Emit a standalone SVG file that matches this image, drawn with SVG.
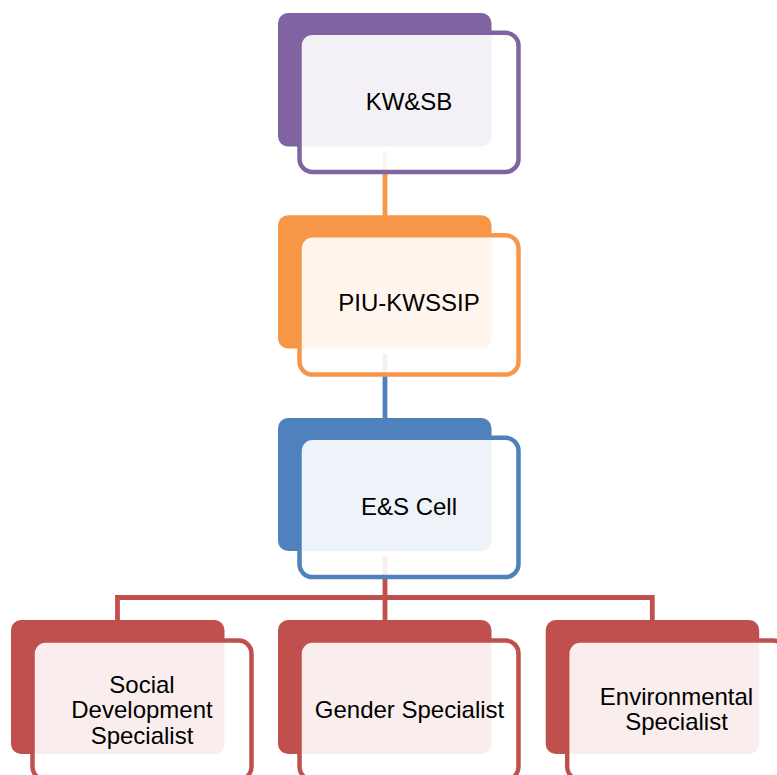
<svg xmlns="http://www.w3.org/2000/svg" width="777" height="775" viewBox="0 0 777 775">
<style>
.back{stroke:none}
.front{fill:#ffffff;fill-opacity:0.9;stroke-width:4.5}
.lbl{font-family:"Liberation Sans",Arial,sans-serif;font-size:24px;fill:#000;text-anchor:middle}
.conn{fill:none;stroke-width:4.8;stroke-linejoin:miter}
</style>
<g id="connectors">
<line class="conn" x1="385" y1="151" x2="385" y2="218" stroke="#F79646"/>
<line class="conn" x1="385" y1="354" x2="385" y2="420" stroke="#4F81BD"/>
<path class="conn" d="M385 556.5 V597.5 M117.5 622 V597.5 H652.3 V622 M385 597.5 V622" stroke="#C0504D"/>
</g>
<g id="kwsb">
<rect class="back" x="278" y="13" width="213.5" height="133.5" rx="10" fill="#8064A2"/>
<rect class="front" x="299.5" y="32.7" width="219" height="139.3" rx="13" stroke="#8064A2"/>
<text class="lbl" x="409" y="110">KW&amp;SB</text>
</g>
<g id="piu">
<rect class="back" x="278" y="215.2" width="213.5" height="133.3" rx="10" fill="#F79646"/>
<rect class="front" x="299.5" y="235.3" width="219" height="139.3" rx="13" stroke="#F79646"/>
<text class="lbl" x="409" y="311">PIU-KWSSIP</text>
</g>
<g id="escell">
<rect class="back" x="278" y="418" width="213.5" height="133" rx="10" fill="#4F81BD"/>
<rect class="front" x="299.5" y="437.8" width="219" height="139.3" rx="13" stroke="#4F81BD"/>
<text class="lbl" x="409" y="515">E&amp;S Cell</text>
</g>
<g id="social">
<rect class="back" x="11" y="620" width="213.5" height="134" rx="10" fill="#C0504D"/>
<rect class="front" x="32.5" y="640.5" width="219" height="139.3" rx="13" stroke="#C0504D"/>
<text class="lbl" x="142" y="692.7">Social</text>
<text class="lbl" x="142" y="718.3">Development</text>
<text class="lbl" x="142" y="743.5">Specialist</text>
</g>
<g id="gender">
<rect class="back" x="278" y="620" width="213.5" height="134" rx="10" fill="#C0504D"/>
<rect class="front" x="299.5" y="640.5" width="219" height="139.3" rx="13" stroke="#C0504D"/>
<text class="lbl" x="409.5" y="718">Gender Specialist</text>
</g>
<g id="environmental">
<rect class="back" x="545.7" y="620" width="213.5" height="134" rx="10" fill="#C0504D"/>
<rect class="front" x="567.2" y="640.5" width="219" height="139.3" rx="13" stroke="#C0504D"/>
<text class="lbl" x="676.5" y="705">Environmental</text>
<text class="lbl" x="676.5" y="730">Specialist</text>
</g>
</svg>
